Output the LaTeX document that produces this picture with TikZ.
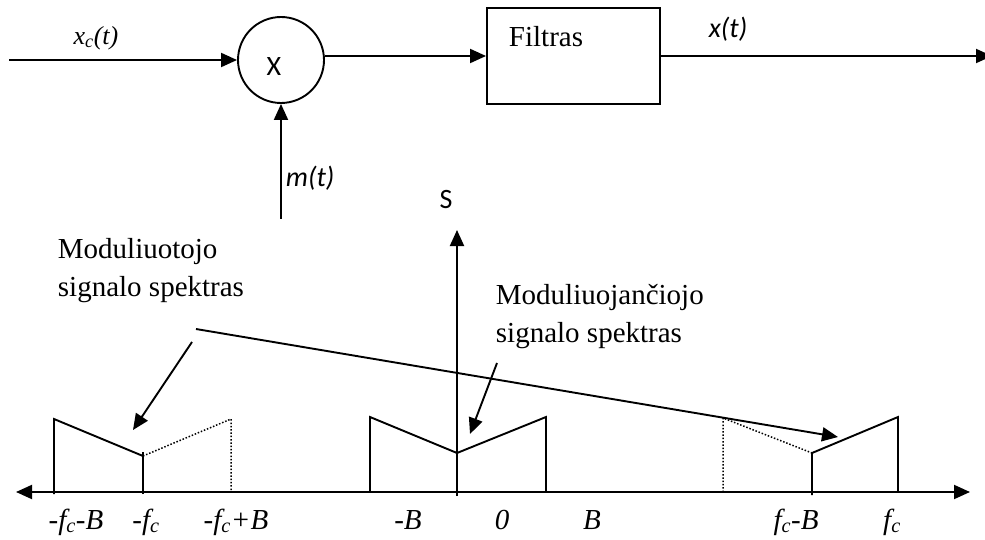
\documentclass[tikz,border=0pt]{standalone}
\usepackage{fontspec}
\setmainfont{Liberation Serif}
\newfontfamily\calibfont{Carlito}
\usetikzlibrary{arrows.meta}

\begin{document}
\begin{tikzpicture}[x=1pt,y=-1pt,line width=1.9pt,
  >={Triangle[length=16pt,width=14pt]},
  axlbl/.style={anchor=base,inner sep=0pt,font=\fontsize{29}{35}\selectfont\itshape},
  note/.style={anchor=north west,inner sep=0pt,align=left,font=\fontsize{29}{38}\selectfont},
  sig/.style={inner sep=0pt,font=\calibfont\fontsize{28}{32}\selectfont\itshape},
  ghost/.style={line width=1.5pt,dash pattern=on 1.5pt off 1.8pt}]
  \useasboundingbox (0,0) rectangle (985,540);
  % block diagram
  \coordinate (xin) at (9,60);
  \node[draw,circle,minimum size=86pt,inner sep=0pt] (mix) at (281,60) {};
  \node[inner sep=0pt,font=\calibfont\fontsize{28}{32}\selectfont] (xsign) at (274,67) {X};
  \node[draw,minimum width=173pt,minimum height=96pt] (filt) at (573.5,56) {};
  \node[anchor=base west,inner sep=0pt,font=\fontsize{29}{35}\selectfont] (filtlbl) at (508,47) {Filtras};
  \coordinate (min) at (281,219);
  \coordinate (xout) at (992,56);
  \draw[->] (xin) -- (mix.west);
  \draw[->] (min) -- (mix.south);
  \draw[->] (filt.west -| mix.east) -- (filt.west);
  \draw[->] (filt.east) -- (xout);
  \node[inner sep=0pt,font=\fontsize{26}{30}\selectfont\itshape] (xclbl) at (96,38) {x\textsubscript{c}(t)};
  \node[sig,anchor=west] (mlbl) at (285,178) {m(t)};
  \node[sig] (xlbl) at (728,29) {x(t)};
  % spectrum
  \coordinate (fl) at (16,492);
  \coordinate (fr) at (970,492);
  \coordinate (s0) at (457,496);
  \coordinate (stop) at (457,230);
  \draw[<->] (fl) -- (fr);
  \draw[->] (s0) -- (stop);
  \node[inner sep=0pt,font=\calibfont\fontsize{28}{32}\selectfont] (slbl) at (446,200) {S};
  \draw (54,494) -- (54,419) -- (143,456);
  \draw (143,494) -- (143,452);
  \draw[ghost] (143,456) -- (231,419) -- (231,492);
  \draw (370,492) -- (370,417) -- (457,453) -- (546,417) -- (546,492);
  \draw[ghost] (723,492) -- (723,418) -- (812,453);
  \draw (812,495) -- (812,453) -- (898,417) -- (898,492);
  \node[axlbl] (l1) at (76,529) {-f\textsubscript{c}-B};
  \node[axlbl] (l2) at (146,529) {-f\textsubscript{c}};
  \node[axlbl] (l3) at (236,529) {-f\textsubscript{c}+B};
  \node[axlbl] (l4) at (408,529) {-B};
  \node[axlbl] (l5) at (502,529) {0};
  \node[axlbl] (l6) at (592,529) {B};
  \node[axlbl] (l7) at (796,529) {f\textsubscript{c}-B};
  \node[axlbl] (l8) at (892,529) {f\textsubscript{c}};
  % annotations
  \node[note] (modnote) at (57,237) {Moduliuotojo\\signalo spektras};
  \node[note] (msgnote) at (495,283) {Moduliuojančiojo\\signalo spektras};
  \coordinate (a1) at (192,342);
  \coordinate (a1e) at (133,430);
  \coordinate (a2) at (196,329);
  \coordinate (a2e) at (838,437);
  \coordinate (a3) at (497,363);
  \coordinate (a3e) at (470,434);
  \draw[->] (a1) -- (a1e);
  \draw[->] (a2) -- (a2e);
  \draw[->] (a3) -- (a3e);
\end{tikzpicture}
\end{document}
